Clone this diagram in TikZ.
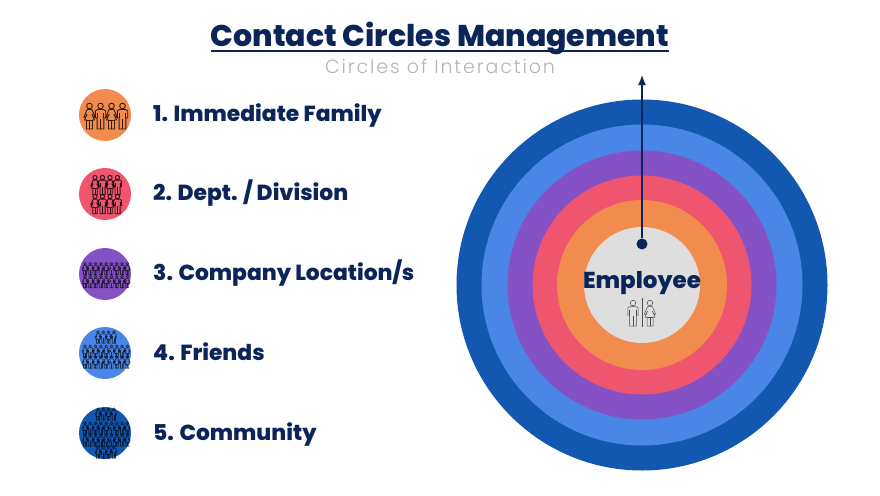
\documentclass[tikz,border=0pt]{standalone}
\usepackage{fontspec}
\setmainfont[BoldFont={Poppins ExtraBold}]{Poppins}
\newfontfamily\lightfont{Poppins Light}
\usetikzlibrary{arrows.meta}
\definecolor{navy}{HTML}{0B2559}
\definecolor{coreGray}{HTML}{DEDEDE}
\definecolor{subGray}{HTML}{B4B4B4}
\definecolor{famOrange}{HTML}{F28C4E}
\definecolor{deptRed}{HTML}{F0556F}
\definecolor{sitePurple}{HTML}{8452C4}
\definecolor{friendBlue}{HTML}{4A86E8}
\definecolor{commBlue}{HTML}{1257B0}
\tikzset{
  ring/.style={circle,inner sep=0pt,minimum size=#1},
  badge/.style={circle,inner sep=0pt,minimum size=52pt},
  entry/.style={anchor=base west,inner sep=0pt,text=navy,font=\fontsize{21.8}{26}\selectfont\bfseries},
  pics/man/.style={code={
    \draw (0,-10) circle(2.8);
    \draw (-3,-6.5) -- (3,-6.5) -- (5.2,-5) -- (5.2,2) -- (3.4,2) -- (3.4,13) -- (-3.4,13) -- (-3.4,2) -- (-5.2,2) -- (-5.2,-5) -- cycle;
    \draw (0,3) -- (0,13) (-3.4,-3) -- (-3.4,2) (3.4,-3) -- (3.4,2);
  }},
  pics/woman/.style={code={
    \draw (0,-10) circle(2.8);
    \draw (-2.4,-6.5) -- (2.4,-6.5) -- (5.6,1) -- (4.2,1.6) -- (2.4,-2) -- (5,4) -- (3,4) -- (3,13) -- (-3,13) -- (-3,4) -- (-5,4) -- (-2.4,-2) -- (-4.2,1.6) -- (-5.6,1) -- cycle;
    \draw (0,4) -- (0,13) (-3,4) -- (3,4);
  }},
}
% a row of figures: count, first x, x step, y, scale
\newcommand{\folkrow}[5]{%
  \foreach \i in {1,...,#1}{%
    \ifodd\i
      \pic[scale=#5] at ({#2+(\i-1)*#3},#4) {woman};
    \else
      \pic[scale=#5] at ({#2+(\i-1)*#3},#4) {man};
    \fi
  }%
}
\begin{document}
\begin{tikzpicture}[x=1pt,y=-1pt,>={Latex[length=10pt,width=8pt]}]
    \useasboundingbox (0,0) rectangle (880,495);

    % heading
    \node[anchor=base,inner sep=0pt,text=navy,font=\fontsize{30}{36}\selectfont\bfseries] (title) at (440,47) {Contact Circles Management};
    \draw[navy,line width=1.5pt] ([yshift=-4pt]title.base west) -- ([yshift=-4pt]title.base east);
    \node[anchor=base,inner sep=0pt,text=subGray,font=\fontsize{19}{22}\selectfont\lightfont\addfontfeature{LetterSpace=10}] (subtitle) at (440,74) {Circles of Interaction};

    % the circles, from the outside in
    \node[ring=371pt,fill=commBlue] (ring5) at (642,285) {};
    \node[ring=321pt,fill=friendBlue] (ring4) at (642,285) {};
    \node[ring=269pt,fill=sitePurple] (ring3) at (642,285) {};
    \node[ring=219pt,fill=deptRed] (ring2) at (642,285) {};
    \node[ring=170pt,fill=famOrange] (ring1) at (642,285) {};
    \node[ring=116pt,fill=coreGray] (core) at (642,285) {};

    % the arrow leaves from the dot
    \node[ring=11pt,fill=navy] (dot) at (642,244) {};
    \coordinate (top) at (642,75);
    \draw[->,navy,line width=1.3pt] (dot) -- (top);

    \node[anchor=base,inner sep=0pt,text=navy,font=\fontsize{23}{28}\selectfont\bfseries] (employee) at (642,288) {Employee};
    \begin{scope}[draw=black!70,line width=.5pt]
      \pic at (633,313) {man};
      \pic at (650,313) {woman};
      \draw (642,298) -- (642,327);
    \end{scope}

    % the list
    \node[badge,fill=famOrange] (fam) at (105,115) {};
    \node[badge,fill=deptRed] (dept) at (105,194) {};
    \node[badge,fill=sitePurple] (site) at (105,274) {};
    \node[badge,fill=friendBlue] (friends) at (105,353) {};
    \node[badge,fill=commBlue] (comm) at (105,433) {};
    \node[entry] (famtext) at (153,121) {1. Immediate Family};
    \node[entry] (depttext) at (153,200) {2. Dept. / Division};
    \node[entry] (sitetext) at (153,280) {3. Company Location/s};
    \node[entry] (friendstext) at (153,360) {4. Friends};
    \node[entry] (commtext) at (153,440) {5. Community};

    % the people on the badges
    \begin{scope}[draw=black,draw opacity=.8,line width=.9pt]
      \folkrow{4}{89.5}{11}{116}{1}
      \folkrow{4}{95}{7.5}{185}{.75}
      \folkrow{4}{95}{7.5}{204}{.75}
    \end{scope}
    \begin{scope}[draw=black,draw opacity=.65,line width=.7pt]
      \folkrow{9}{85}{5.3}{268.5}{.48}
      \folkrow{9}{85}{5.3}{281.5}{.48}
      \folkrow{4}{98}{5.3}{337}{.48}
      \folkrow{9}{85}{5.3}{351}{.48}
      \folkrow{9}{85}{5.3}{362}{.48}
      \folkrow{4}{98}{5.3}{414}{.48}
      \folkrow{9}{85}{5.3}{428}{.48}
      \folkrow{9}{85}{5.3}{440}{.48}
      \folkrow{4}{98}{5.3}{452}{.48}
    \end{scope}
\end{tikzpicture}
\end{document}
